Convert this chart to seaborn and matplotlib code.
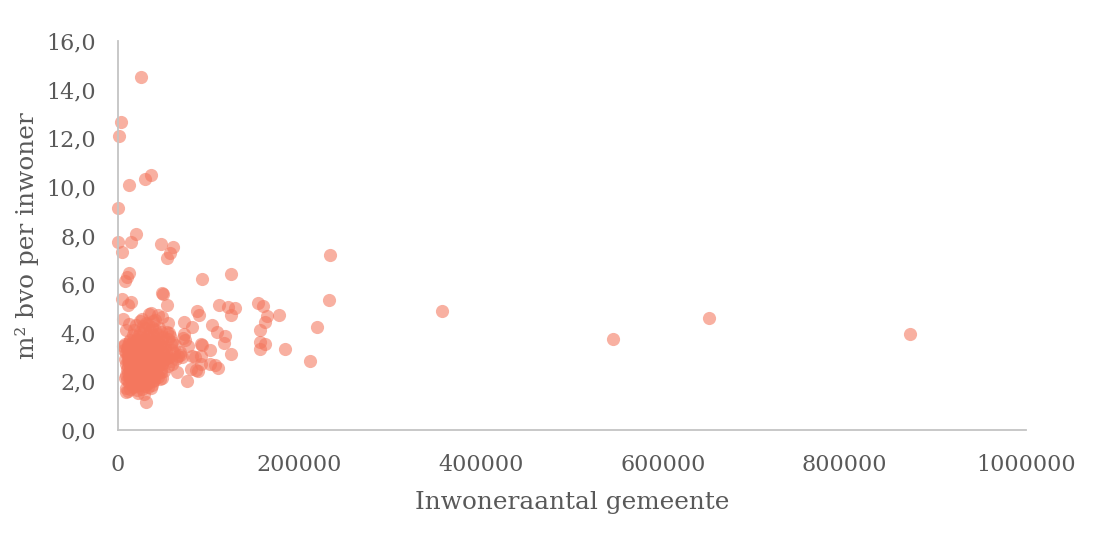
import matplotlib
matplotlib.use("Agg")
import matplotlib.pyplot as plt
import pandas as pd
import seaborn as sns

# losse punten buiten de dichte wolk
inwoners_los = [25300, 3300, 1100, 12100, 29700, 36300, 500, 19800, 500, 14300, 4400, 47400,
                60500, 57300, 54000, 233500, 92500, 124500, 12100, 10000, 7700, 49500, 48500,
                4400, 14000, 11000, 54000, 232000, 111000, 121000, 129000, 154000, 160000,
                87000, 89000, 124000, 164000, 177000, 162000, 357000, 545000, 651000, 872000,
                219000, 211000, 184000, 162000, 156000, 156000, 156000, 118000, 117000, 124000,
                104000, 109000, 81000, 73000, 73000, 74000, 72000, 77000, 81000, 91000, 92000,
                101000, 91000, 101000, 107000, 110000, 76000, 80000, 86000, 88000, 85000, 91000,
                6000, 70000, 68000]
bvo_los = [14.5, 12.65, 12.1, 10.08, 10.32, 10.48, 9.15, 8.07, 7.75, 7.72, 7.33, 7.65,
           7.52, 7.28, 7.07, 7.2, 6.2, 6.4, 6.45, 6.3, 6.13, 5.6, 5.62,
           5.4, 5.27, 5.15, 5.15, 5.35, 5.15, 5.05, 5.02, 5.22, 5.1,
           4.9, 4.73, 4.73, 4.68, 4.73, 4.44, 4.9, 3.74, 4.62, 3.95,
           4.24, 2.84, 3.33, 3.54, 3.62, 4.11, 3.33, 3.87, 3.58, 3.13,
           4.32, 4.03, 4.24, 4.44, 3.95, 3.7, 3.78, 3.46, 3.05, 3.55, 3.5,
           3.3, 2.72, 2.72, 2.68, 2.55, 2.0, 2.5, 2.45, 2.42, 3.0, 3.05,
           4.55, 3.0, 3.2]

# dichte wolk linksonder
inwoners_wolk = [34000, 36000, 44000, 49000, 24000, 26000, 31000, 38000, 41000, 55000,
                 12000, 20000, 28000, 33000, 37000, 45000, 8500, 18000, 24000, 30000, 35000,
                 41000, 47000, 54000, 56000, 16000, 22000, 27000, 33000, 38000, 43000, 50000,
                 57000, 13000, 17000, 21000, 25000, 29000, 34000, 39000, 44000, 49000, 55000,
                 60000, 6000, 8000, 11000, 15000, 19000, 23000, 27000, 31000, 36000, 40000,
                 46000, 52000, 58000, 63000, 6500, 10000, 13000, 17000, 21000, 25000, 29000,
                 33000, 38000, 42000, 48000, 53000, 60000, 66000, 9000, 12000, 15000, 19000,
                 23000, 27000, 31000, 35000, 39000, 44000, 50000, 56000, 62000, 68000, 8000,
                 11000, 14000, 18000, 22000, 26000, 30000, 34000, 37000, 41000, 47000, 52000,
                 58000, 64000, 9000, 12000, 16000, 20000, 24000, 28000, 32000, 36000, 40000,
                 45000, 49000, 55000, 60000, 10000, 13000, 17000, 21000, 25000, 29000, 33000,
                 37000, 42000, 47000, 51000, 65000, 8500, 11000, 15000, 19000, 23000, 27000,
                 31000, 35000, 39000, 44000, 8000, 10000, 13000, 17000, 21000, 25000, 29000,
                 34000, 40000, 46000, 48000, 12000, 15000, 19000, 23000, 27000, 32000, 37000,
                 9000, 13000, 17000, 21000, 26000, 33000, 36000, 8500, 10500, 22000, 29000, 30500]
bvo_wolk = [4.78, 4.8, 4.75, 4.65, 4.5, 4.55, 4.42, 4.48, 4.52, 4.4,
            4.35, 4.3, 4.28, 4.36, 4.25, 4.2, 4.12, 4.1, 4.05, 4.15, 4.08,
            4.12, 4.02, 4.05, 3.98, 3.92, 3.88, 3.95, 3.85, 3.9, 3.93, 3.82,
            3.87, 3.72, 3.68, 3.75, 3.66, 3.74, 3.7, 3.65, 3.72, 3.68, 3.75,
            3.62, 3.45, 3.55, 3.5, 3.52, 3.46, 3.58, 3.48, 3.54, 3.44, 3.56,
            3.5, 3.42, 3.55, 3.48, 3.28, 3.35, 3.3, 3.25, 3.36, 3.28, 3.34,
            3.24, 3.32, 3.26, 3.38, 3.22, 3.3, 3.05, 3.15, 3.08, 3.12, 3.18,
            3.06, 3.14, 3.1, 3.04, 3.16, 3.08, 3.12, 3.02, 3.18, 3.1, 2.9,
            2.85, 2.95, 2.88, 2.92, 2.84, 2.96, 2.9, 2.86, 2.94, 2.88, 2.92,
            2.82, 2.9, 2.7, 2.75, 2.68, 2.72, 2.66, 2.74, 2.7, 2.64, 2.76,
            2.68, 2.72, 2.62, 2.7, 2.52, 2.46, 2.55, 2.48, 2.54, 2.44, 2.5,
            2.56, 2.46, 2.52, 2.42, 2.38, 2.28, 2.35, 2.25, 2.32, 2.36, 2.24,
            2.3, 2.34, 2.26, 2.2, 2.12, 2.05, 2.16, 2.08, 2.14, 2.02, 2.1,
            2.15, 2.06, 2.1, 2.12, 1.92, 1.88, 1.96, 1.86, 1.94, 1.9, 1.84,
            1.72, 1.68, 1.76, 1.65, 1.7, 1.75, 1.72, 1.55, 1.6, 1.52, 1.5, 1.15]

# extra punten in het midden van de wolk
inwoners_extra = [11500, 14500, 18500, 22500, 26500, 30500, 34500, 38500, 13000, 16500, 20500,
                  24500, 28500, 32500, 36500, 41000, 10500, 15500, 19500, 23500, 27500, 31500,
                  35500, 43000, 12500, 17500, 21500, 25500, 29500, 33500, 37500, 45000, 11000,
                  16000, 20000, 24000, 28000, 32000, 38000, 50000, 14000, 18000, 22000, 26000,
                  30000, 34000, 42000, 54000, 12000, 19000, 25000, 31000, 37000, 47000, 15000,
                  23000, 28000, 35000, 43000, 20000, 30000, 39000,
                  12000, 16000, 20000, 24000, 28000, 32000, 36000, 40000, 44000, 13500, 17500,
                  21500, 25500, 29500, 33500, 37500, 41500, 46000, 11500, 15000, 19000, 23000,
                  27000, 31000, 35000, 39000, 43000, 14500, 18500, 22500, 26500, 30500, 34500,
                  38500, 42500, 13000, 17000, 21000, 25000, 29000, 33000, 37000, 40500, 14000,
                  18000, 22000, 26000, 30000, 34000, 38000, 16500, 20500, 24500, 28500, 32500]
bvo_extra = [3.4, 3.44, 3.38, 3.42, 3.46, 3.36, 3.4, 3.42, 3.2, 3.22, 3.18, 3.24, 3.2, 3.16,
             3.22, 3.26, 3.0, 3.02, 2.98, 3.04, 3.0, 2.96, 3.02, 3.0, 2.8, 2.82, 2.78, 2.84,
             2.8, 2.76, 2.82, 2.8, 2.6, 2.62, 2.58, 2.64, 2.6, 2.56, 2.62, 2.9, 2.4, 2.42, 2.38,
             2.44, 2.4, 2.42, 2.6, 2.95, 2.2, 2.22, 2.18, 2.24, 2.2, 2.4, 2.0, 2.02, 1.98, 2.04,
             2.3, 1.8, 1.82, 2.0,
             3.6, 3.58, 3.62, 3.56, 3.6, 3.64, 3.58, 3.62, 3.6, 3.3, 3.32, 3.28, 3.34, 3.3,
             3.26, 3.32, 3.28, 3.3, 3.1, 3.06, 3.12, 3.08, 3.1, 3.04, 3.12, 3.08, 3.1, 2.72,
             2.74, 2.7, 2.76, 2.72, 2.68, 2.74, 2.7, 2.5, 2.52, 2.48, 2.54, 2.5, 2.46, 2.52,
             2.48, 2.3, 2.28, 2.32, 2.26, 2.3, 2.34, 2.28, 1.98, 2.1, 1.95, 2.12, 1.96]

y_ticks = [0, 2, 4, 6, 8, 10, 12, 14, 16]
x_ticks = [0, 200000, 400000, 600000, 800000, 1000000]

df = pd.DataFrame({"inwoners": inwoners_los + inwoners_wolk + inwoners_extra,
                   "bvo": bvo_los + bvo_wolk + bvo_extra})

sns.set_style("white")
plt.rcParams["font.family"] = ["DejaVu Serif"]

grijs = "#595959"
fig = plt.figure(figsize=(10.99, 5.44), dpi=100)
ax = fig.add_axes([118 / 1099, 1 - 430 / 544, 908 / 1099, 389 / 544])

sns.scatterplot(data=df, x="inwoners", y="bvo", ax=ax, s=90, color="#f4775e",
                alpha=0.58, linewidth=0, clip_on=False)

ax.set_xlim(0, 1000000)
ax.set_ylim(0, 16)
ax.set_xticks(x_ticks)
ax.set_xticklabels([str(v) for v in x_ticks])
ax.set_yticks(y_ticks)
ax.set_yticklabels([f"{v},0" for v in y_ticks])
ax.tick_params(axis="both", length=0, labelsize=16, labelcolor=grijs)
ax.tick_params(axis="x", pad=17)
ax.tick_params(axis="y", pad=16)

ax.set_xlabel("Inwoneraantal gemeente", fontsize=17.8, color=grijs, va="center")
ax.set_ylabel("m² bvo per inwoner", fontsize=17.8, color=grijs, va="center")
ax.xaxis.set_label_coords(0.5, -73 / 389)
ax.yaxis.set_label_coords(-91 / 908, 0.5)

for s in ["top", "right"]:
    ax.spines[s].set_visible(False)
for s in ["left", "bottom"]:
    ax.spines[s].set_color("#c4c4c4")
    ax.spines[s].set_linewidth(1.3)

fig.savefig("out.png", dpi=100)
plt.close(fig)
